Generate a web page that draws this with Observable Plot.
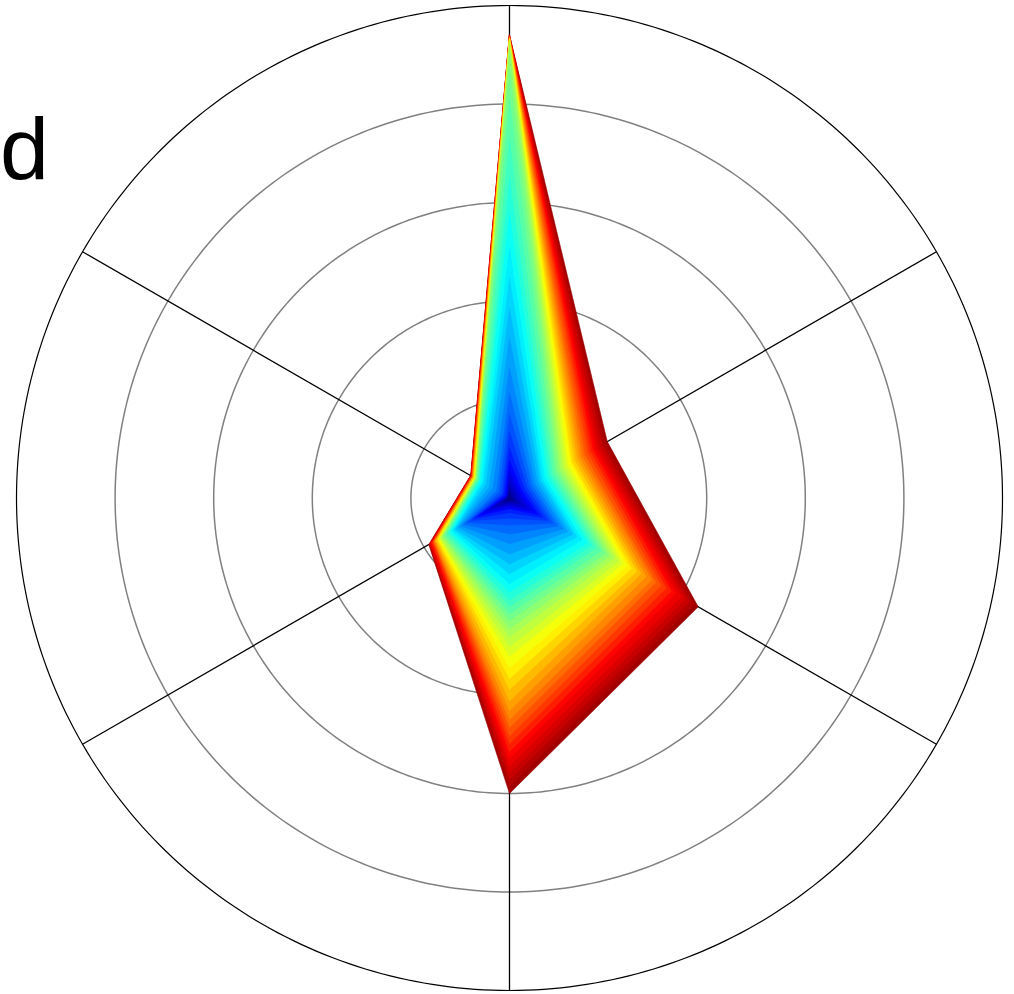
<!DOCTYPE html>
<html>
<head>
<meta charset="utf-8">
<script src="https://cdn.jsdelivr.net/npm/d3@7"></script>
<script src="https://cdn.jsdelivr.net/npm/@observablehq/plot@0.6"></script>
<style>
html, body { margin: 0; padding: 0; background: #fff; }
svg { display: block; }
</style>
</head>
<body>
<div id="chart"></div>
<script>
// Axes (degrees clockwise from top) and grid rings (outer ring = 100)
const axisAngles = [0, 60, 120, 180, 240, 300];
const ringValues = [20, 40, 60, 80];
const outerRingValues = [100];
const panelLabel = "d";

// Layer values on each axis, innermost layer (dark blue) first, outermost (dark red) last
const r000 = [0.8, 1.6, 2.6, 3.9, 5.5, 7.5, 10.1, 13.4, 17.0, 21.3, 26.4, 32.5, 38.5, 44.6, 50.7, 57.8, 64.9, 73.0, 81.1, 87.2, 90.7, 92.1, 92.7, 92.9, 93.1, 93.1, 93.3, 93.3, 93.4, 93.5, 93.5, 93.6, 93.7, 93.7, 93.8, 93.8, 93.9, 93.9, 94.0, 94.0];
const r060 = [0.2, 0.6, 1.2, 1.8, 2.4, 2.9, 3.5, 4.1, 4.7, 5.3, 5.9, 6.5, 7.1, 7.6, 8.2, 8.8, 9.4, 10.0, 10.6, 11.2, 11.8, 12.4, 13.0, 13.6, 14.2, 14.6, 15.2, 15.8, 16.4, 17.0, 17.6, 18.3, 18.9, 19.5, 20.0, 20.5, 21.1, 21.7, 22.3, 22.9];
const r120 = [0.6, 1.4, 2.4, 3.9, 5.3, 6.7, 7.9, 9.1, 10.3, 11.4, 12.6, 13.6, 14.8, 15.8, 17.0, 18.3, 19.3, 20.3, 21.5, 22.5, 23.5, 24.5, 25.6, 26.6, 27.6, 28.6, 29.8, 30.8, 32.0, 33.3, 34.3, 35.5, 36.7, 37.9, 38.9, 40.2, 41.2, 42.2, 43.2, 44.2];
const r180 = [0.4, 0.6, 1.0, 1.4, 1.8, 2.2, 3.0, 4.1, 5.5, 7.3, 9.3, 11.4, 13.4, 15.4, 17.4, 19.1, 20.7, 22.1, 23.5, 24.9, 26.6, 28.2, 30.2, 32.2, 34.5, 36.7, 38.9, 41.2, 43.2, 45.0, 46.6, 48.3, 49.9, 51.5, 52.9, 54.4, 55.8, 57.2, 58.6, 60.0];
const r240 = [0.6, 1.8, 3.0, 4.5, 5.9, 7.3, 8.3, 9.1, 9.9, 10.7, 11.4, 12.0, 12.6, 13.0, 13.4, 13.8, 14.2, 14.6, 15.0, 15.4, 15.6, 16.0, 16.2, 16.4, 16.6, 16.8, 17.0, 17.2, 17.4, 17.6, 17.7, 17.8, 18.0, 18.2, 18.3, 18.5, 18.6, 18.7, 18.8, 18.9];
const r300 = [0.2, 0.3, 0.4, 0.6, 0.8, 1.0, 1.4, 1.8, 2.4, 3.0, 3.9, 4.7, 5.5, 6.1, 6.5, 6.9, 7.1, 7.3, 7.5, 7.7, 7.8, 7.9, 8.0, 8.1, 8.2, 8.3, 8.4, 8.5, 8.6, 8.6, 8.7, 8.8, 8.8, 8.9, 9.0, 9.0, 9.0, 9.1, 9.1, 9.1];

// Jet colormap stops
const jetStops = [0, 0.125, 0.375, 0.625, 0.875, 1];
const jetColors = ["#000080", "#0000ff", "#00ffff", "#ffff00", "#ff0000", "#a00000"];

const series = [r000, r060, r120, r180, r240, r300];
const layerCount = r000.length;
const rad = (a) => a * Math.PI / 180;

// polygon rows: outermost layer first so inner layers draw on top
const polyRows = [];
for (let k = layerCount - 1; k >= 0; --k) {
  for (let i = 0; i < axisAngles.length; ++i) {
    polyRows.push({layer: k, angle: axisAngles[i], value: series[i][k]});
  }
}

// circle rows for the grid rings
function ringRows(values) {
  const out = [];
  for (const v of values) for (let a = 0; a < 360; a += 1) out.push({ring: v, angle: a, value: v});
  return out;
}

const px = (d) => d.value * Math.sin(rad(d.angle));
const py = (d) => d.value * Math.cos(rad(d.angle));

const svg = Plot.plot({
  width: 1014,
  height: 994,
  marginLeft: 16,
  marginRight: 12,
  marginTop: 5,
  marginBottom: 4,
  x: {domain: [-100, 100], axis: null},
  y: {domain: [-100, 100], axis: null},
  color: {type: "linear", domain: jetStops.map((s) => s * (layerCount - 1)), range: jetColors, interpolate: "rgb"},
  style: {background: "white", overflow: "visible"},
  marks: [
    Plot.line(ringRows(ringValues), {x: px, y: py, z: "ring", stroke: "#808080", strokeWidth: 1.5, curve: "linear-closed"}),
    Plot.line(ringRows(outerRingValues), {x: px, y: py, z: "ring", stroke: "black", strokeWidth: 1.2, curve: "linear-closed"}),
    Plot.link(axisAngles, {x1: 0, y1: 0, x2: (a) => 100 * Math.sin(rad(a)), y2: (a) => 100 * Math.cos(rad(a)), stroke: "black", strokeWidth: 1.3}),
    Plot.line(polyRows, {x: px, y: py, z: "layer", fill: "layer", stroke: "layer", strokeWidth: 0.6, curve: "linear-closed"})
  ]
});

d3.select(svg).append("text")
  .attr("x", 0)
  .attr("y", 179)
  .attr("text-anchor", "start")
  .attr("font-family", "'Liberation Sans', Arial, Helvetica, sans-serif")
  .attr("font-size", 88)
  .attr("fill", "black")
  .text(panelLabel);

document.getElementById("chart").appendChild(svg);
</script>
</body>
</html>
